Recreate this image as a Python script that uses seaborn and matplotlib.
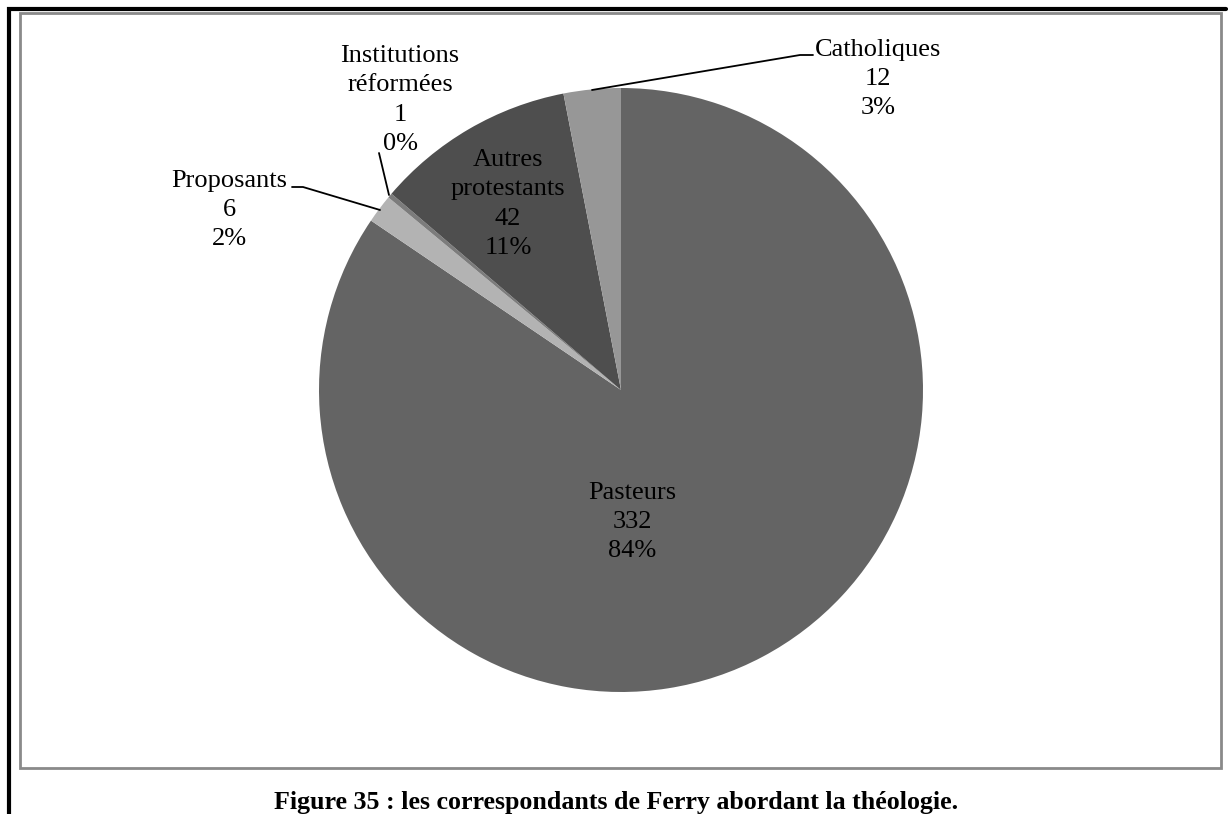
import matplotlib
matplotlib.use("Agg")
import matplotlib.pyplot as plt
import seaborn as sns

sns.set_theme(style="white")
plt.rcParams['font.family'] = ['Liberation Serif', 'DejaVu Serif']

categories = ["Pasteurs", "Proposants", "Institutions\nréformées", "Autres\nprotestants", "Catholiques"]
counts = [332, 6, 1, 42, 12]
slice_colors = ["#646464", "#b3b3b3", "#7c7c7c", "#4e4e4e", "#979797"]
caption = "Figure 35 : les correspondants de Ferry abordant la théologie."

W, H = 1229, 814
fig = plt.figure(figsize=(W / 100, H / 100), dpi=100)
ax = fig.add_axes([0, 0, 1, 1])

# pie in pixel space (y going up)
cx, cy, R = 621, H - 390, 302
ax.pie(counts, colors=slice_colors, startangle=90, counterclock=False,
       center=(cx, cy), radius=R, wedgeprops=dict(linewidth=0))
ax.set_xlim(0, W)
ax.set_ylim(0, H)
ax.set_aspect("equal")
ax.axis("off")

total = sum(counts)
pct = [round(100 * c / total) for c in counts]
labels = [f"{n}\n{c}\n{p}%" for n, c, p in zip(categories, counts, pct)]

# label block centres (pixels from top) and leader lines
label_pos = [(632, 522), (229, 210), (400, 100), (508, 204), (878, 79)]
leaders = {
    1: [(380, 210), (303, 187), (292, 187)],
    2: [(389, 195), (379, 153)],
    4: [(592, 90), (800, 55), (813, 55)],
}
for i, (x, y) in enumerate(label_pos):
    ax.text(x, H - y, labels[i], ha="center", va="center", fontsize=19,
            linespacing=1.42, color="black")
for i, pts in leaders.items():
    ax.plot([p[0] for p in pts], [H - p[1] for p in pts], color="black", lw=1.3)

# frames
ax.add_patch(plt.Rectangle((19.5, H - 768), 1201, 768 - 12.5, fill=False,
                           edgecolor="#8a8a8a", lw=2))
ax.plot([8.5, 8.5, 1226], [0, H - 8.5, H - 8.5], color="black", lw=3,
        solid_joinstyle="miter")

ax.text(616, H - 803, caption, ha="center", va="center", fontsize=18.7,
        fontweight="bold", color="black")

fig.savefig("out.png", dpi=100)
